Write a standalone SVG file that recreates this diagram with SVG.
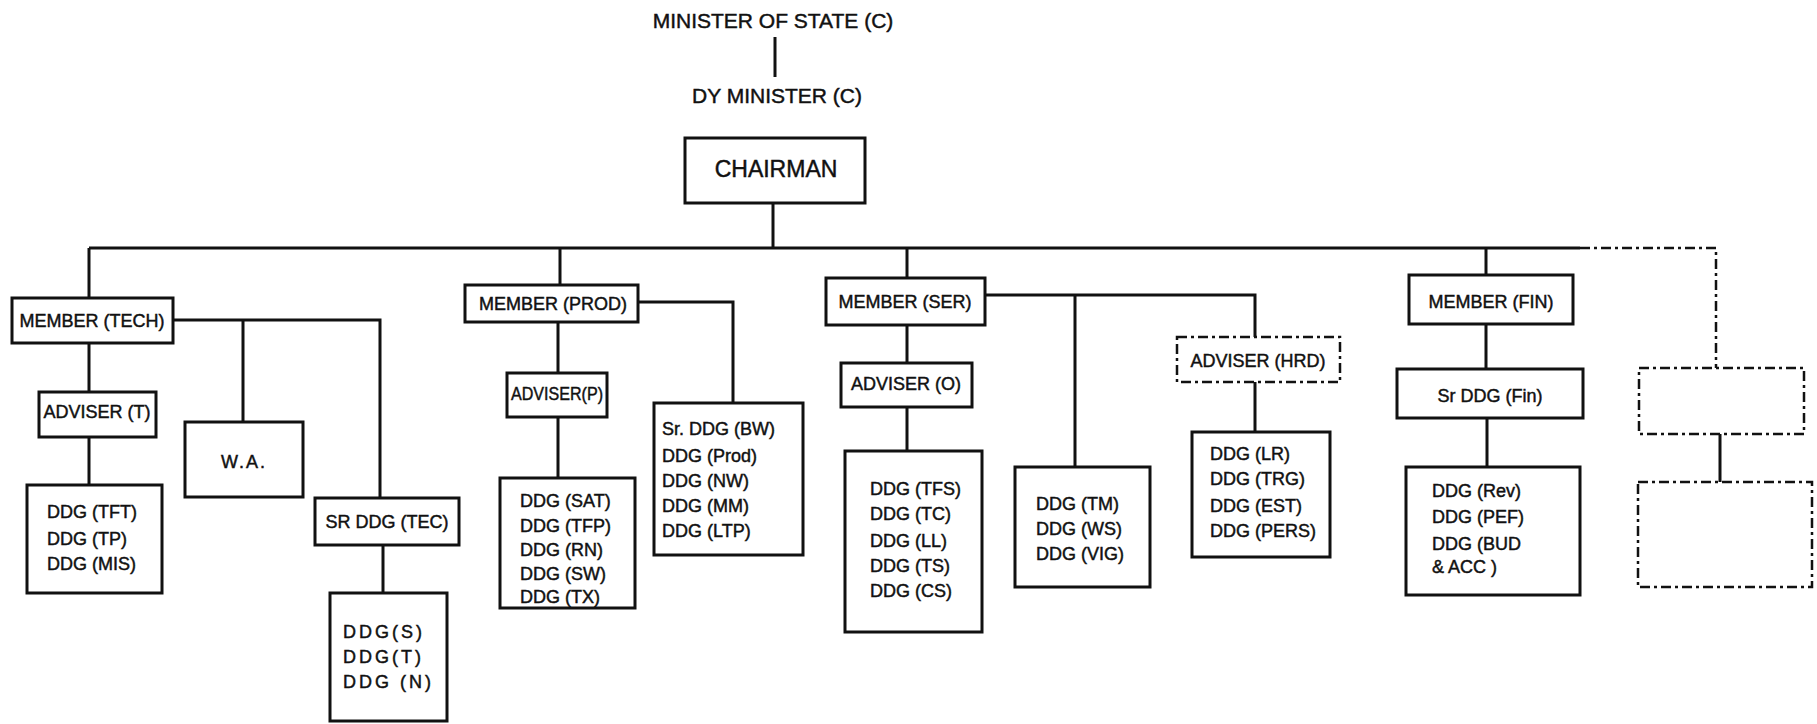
<svg xmlns="http://www.w3.org/2000/svg" width="1817" height="724" viewBox="0 0 1817 724">
<style>
.b{fill:#fff;stroke:#111;stroke-width:3}
.d{fill:#fff;stroke:#111;stroke-width:2.5;stroke-dasharray:10 4 3 4}
.l{fill:none;stroke:#111;stroke-width:3}
.dl{fill:none;stroke:#111;stroke-width:2.5;stroke-dasharray:10 4 3 4}
text{font-family:"Liberation Sans",Arial,sans-serif;font-size:18px;fill:#111;stroke:#111;stroke-width:0.45}
.c{text-anchor:middle}
.t{font-size:21px}
</style>
<rect width="1817" height="724" fill="#fff"/>
<g id="connectors">
<path class="l" d="M775 37V77"/>
<path class="l" d="M773 203V248"/>
<path class="l" d="M89 248H1580"/>
<path class="dl" d="M1580 248H1716V368"/>
<path class="l" d="M89 248V298"/>
<path class="l" d="M560 248V285"/>
<path class="l" d="M907 248V278"/>
<path class="l" d="M1486 248V275"/>
<path class="l" d="M89 343V392M89 437V485"/>
<path class="l" d="M173 320H380V498M243 320V422"/>
<path class="l" d="M383 545V593"/>
<path class="l" d="M558 322V373M558 417V478"/>
<path class="l" d="M638 302H733V403"/>
<path class="l" d="M907 325V363M907 407V451"/>
<path class="l" d="M985 295H1255V337M1075 295V467"/>
<path class="l" d="M1255 382V432"/>
<path class="l" d="M1486 324V369M1487 418V467"/>
<path class="l" d="M1720 434V482"/>
</g>
<g id="minister">
<text class="c t" x="773" y="28">MINISTER OF STATE (C)</text>
</g>
<g id="dyminister">
<text class="c t" x="777" y="103">DY MINISTER (C)</text>
</g>
<g id="chairman">
<rect class="b" x="685" y="138" width="180" height="65"/>
<text class="c" x="776" y="177" style="font-size:23px">CHAIRMAN</text>
</g>
<g id="member-tech">
<rect class="b" x="12" y="298" width="161" height="45"/>
<text class="c" x="92" y="327">MEMBER (TECH)</text>
</g>
<g id="adviser-t">
<rect class="b" x="39" y="392" width="117" height="45"/>
<text class="c" x="97" y="418">ADVISER (T)</text>
</g>
<g id="ddg-tft">
<rect class="b" x="27" y="485" width="135" height="108"/>
<text x="47" y="518">DDG (TFT)</text>
<text x="47" y="545">DDG (TP)</text>
<text x="47" y="570">DDG (MIS)</text>
</g>
<g id="wa">
<rect class="b" x="185" y="422" width="118" height="75"/>
<text class="c" x="244" y="468" style="letter-spacing:2px">W.A.</text>
</g>
<g id="srddg-tec">
<rect class="b" x="315" y="498" width="144" height="47"/>
<text class="c" x="387" y="528">SR DDG (TEC)</text>
</g>
<g id="ddg-s">
<rect class="b" x="330" y="593" width="117" height="128"/>
<text x="343" y="638" style="letter-spacing:3px">DDG(S)</text>
<text x="343" y="663" style="letter-spacing:3px">DDG(T)</text>
<text x="343" y="688" style="letter-spacing:3px">DDG (N)</text>
</g>
<g id="member-prod">
<rect class="b" x="465" y="285" width="173" height="37"/>
<text class="c" x="553" y="310">MEMBER (PROD)</text>
</g>
<g id="adviser-p">
<rect class="b" x="507" y="373" width="100" height="44"/>
<text class="c" x="557" y="400" textLength="92" lengthAdjust="spacingAndGlyphs">ADVISER(P)</text>
</g>
<g id="ddg-sat">
<rect class="b" x="500" y="478" width="135" height="130"/>
<text x="520" y="507">DDG (SAT)</text>
<text x="520" y="532">DDG (TFP)</text>
<text x="520" y="556">DDG (RN)</text>
<text x="520" y="580">DDG (SW)</text>
<text x="520" y="603">DDG (TX)</text>
</g>
<g id="srddg-bw">
<rect class="b" x="654" y="403" width="149" height="152"/>
<text x="662" y="435">Sr. DDG (BW)</text>
<text x="662" y="462">DDG (Prod)</text>
<text x="662" y="487">DDG (NW)</text>
<text x="662" y="512">DDG (MM)</text>
<text x="662" y="537">DDG (LTP)</text>
</g>
<g id="member-ser">
<rect class="b" x="826" y="278" width="159" height="47"/>
<text class="c" x="905" y="308">MEMBER (SER)</text>
</g>
<g id="adviser-o">
<rect class="b" x="841" y="363" width="131" height="44"/>
<text class="c" x="906" y="390">ADVISER (O)</text>
</g>
<g id="ddg-tfs">
<rect class="b" x="845" y="451" width="137" height="181"/>
<text x="870" y="495">DDG (TFS)</text>
<text x="870" y="520">DDG (TC)</text>
<text x="870" y="547">DDG (LL)</text>
<text x="870" y="572">DDG (TS)</text>
<text x="870" y="597">DDG (CS)</text>
</g>
<g id="ddg-tm">
<rect class="b" x="1015" y="467" width="135" height="120"/>
<text x="1036" y="510">DDG (TM)</text>
<text x="1036" y="535">DDG (WS)</text>
<text x="1036" y="560">DDG (VIG)</text>
</g>
<g id="adviser-hrd">
<rect class="d" x="1177" y="337" width="163" height="45"/>
<text class="c" x="1258" y="367">ADVISER (HRD)</text>
</g>
<g id="ddg-lr">
<rect class="b" x="1192" y="432" width="138" height="125"/>
<text x="1210" y="460">DDG (LR)</text>
<text x="1210" y="485">DDG (TRG)</text>
<text x="1210" y="512">DDG (EST)</text>
<text x="1210" y="537">DDG (PERS)</text>
</g>
<g id="member-fin">
<rect class="b" x="1409" y="275" width="164" height="49"/>
<text class="c" x="1491" y="308">MEMBER (FIN)</text>
</g>
<g id="srddg-fin">
<rect class="b" x="1397" y="369" width="186" height="49"/>
<text class="c" x="1490" y="402">Sr DDG (Fin)</text>
</g>
<g id="ddg-rev">
<rect class="b" x="1406" y="467" width="174" height="128"/>
<text x="1432" y="497">DDG (Rev)</text>
<text x="1432" y="523">DDG (PEF)</text>
<text x="1432" y="550">DDG (BUD</text>
<text x="1432" y="573">&amp; ACC )</text>
</g>
<g id="acc-box">
<rect class="d" x="1639" y="368" width="165" height="66"/>
</g>
<g id="acc-sub">
<rect class="d" x="1638" y="482" width="174" height="105"/>
</g>
</svg>
